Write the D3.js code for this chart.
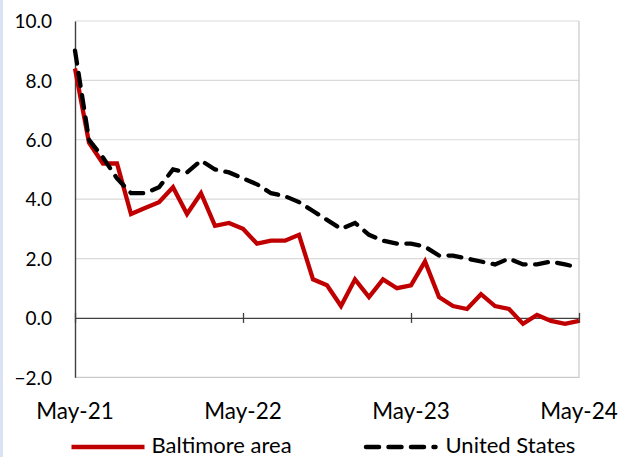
<!DOCTYPE html>
<html><head><meta charset="utf-8">
<script src="https://cdn.jsdelivr.net/npm/d3@7"></script>
<style>html,body{margin:0;padding:0;background:#fff;overflow:hidden}svg{display:block;font-family:Lato,"Open Sans",sans-serif}</style>
</head><body><svg id="c" width="619" height="457"></svg>
<script>
const tickLabels = ["May-21", "May-22", "May-23", "May-24"];
const tickMonths = [0, 12, 24, 36];
const yTicks = [-2, 0, 2, 4, 6, 8, 10];
const seriesNames = ["Baltimore area", "United States"];
const baltimore = [8.4, 5.9, 5.2, 5.2, 3.5, 3.7, 3.9, 4.4, 3.5, 4.2, 3.1, 3.2, 3.0, 2.5, 2.6, 2.6, 2.8, 1.3, 1.1, 0.4, 1.3, 0.7, 1.3, 1.0, 1.1, 1.9, 0.7, 0.4, 0.3, 0.8, 0.4, 0.3, -0.2, 0.1, -0.1, -0.2, -0.1];
const unitedStates = [9.0, 6.0, 5.4, 4.7, 4.2, 4.2, 4.4, 5.0, 4.9, 5.3, 5.0, 4.9, 4.7, 4.5, 4.2, 4.1, 3.9, 3.6, 3.3, 3.0, 3.2, 2.8, 2.6, 2.5, 2.5, 2.4, 2.1, 2.1, 2.0, 1.9, 1.8, 2.0, 1.8, 1.8, 1.9, 1.8, 1.7];

const svg = d3.select("#c");
const L = 75, R = 579, T = 21, B = 377.3;
const x = d3.scaleLinear().domain([0, 36]).range([L, R]);
const y = d3.scaleLinear().domain([-2, 10]).range([B, T]);

svg.append("rect").attr("x", 0).attr("y", 0).attr("width", 3).attr("height", 457).attr("fill", "#dae3f3");

// gridlines
svg.append("g").selectAll("line").data(yTicks.filter(d => d !== 0 && d !== -2)).join("line")
  .attr("x1", L).attr("x2", R).attr("y1", d => y(d)).attr("y2", d => y(d))
  .attr("stroke", "#d9d9d9").attr("stroke-width", 1.2);
// plot border right & bottom
svg.append("path").attr("d", `M${R},${T}V${B}H${L}`).attr("fill", "none").attr("stroke", "#c9c9c9").attr("stroke-width", 1.2);

// y axis
const yAxis = svg.append("g").attr("transform", `translate(${L},0)`)
  .call(d3.axisLeft(y).tickValues(yTicks).tickFormat(d3.format(".1f")).tickSize(0).tickPadding(23));
yAxis.select(".domain").attr("stroke", "#404040").attr("stroke-width", 1.4);
yAxis.selectAll("text").attr("font-size", 19).attr("fill", "#000").attr("font-family", "Lato").attr("dy", "0.36em");

// x axis at zero
const xAxis = svg.append("g").attr("transform", `translate(0,${y(0)})`)
  .call(d3.axisBottom(x).tickValues(tickMonths).tickFormat("").tickSize(5).tickSizeOuter(0));
xAxis.select(".domain").attr("stroke", "#404040").attr("stroke-width", 1.4);
xAxis.selectAll(".tick line").attr("stroke", "#404040").attr("stroke-width", 1.3).attr("y1", -5).attr("y2", 5);

// x labels (placed below the plot area)
svg.append("g").selectAll("text").data(tickLabels).join("text")
  .attr("x", (d, i) => x(tickMonths[i])).attr("y", 418.5).attr("text-anchor", "middle")
  .attr("font-size", 22.5).attr("fill", "#000").text(d => d);

const line = d3.line().x((d, i) => x(i)).y(d => y(d));
svg.append("path").datum(baltimore).attr("d", line).attr("fill", "none")
  .attr("stroke", "#c00000").attr("stroke-width", 4.3).attr("stroke-linejoin", "miter");
svg.append("path").datum(unitedStates).attr("d", line).attr("fill", "none")
  .attr("stroke", "#000").attr("stroke-width", 4.3).attr("stroke-linecap", "round")
  .attr("stroke-dasharray", "13 9.5");

// legend
const lg = svg.append("g");
lg.append("line").attr("x1", 71.5).attr("x2", 144.5).attr("y1", 447).attr("y2", 447)
  .attr("stroke", "#c00000").attr("stroke-width", 4.5);
lg.append("text").attr("x", 151.5).attr("y", 453).attr("font-size", 22).text(seriesNames[0]);
lg.append("line").attr("x1", 366).attr("x2", 435.5).attr("y1", 447).attr("y2", 447)
  .attr("stroke", "#000").attr("stroke-width", 4.5).attr("stroke-linecap", "round").attr("stroke-dasharray", "13 9.5");
lg.append("text").attr("x", 445.5).attr("y", 453).attr("font-size", 22).text(seriesNames[1]);
</script></body></html>
